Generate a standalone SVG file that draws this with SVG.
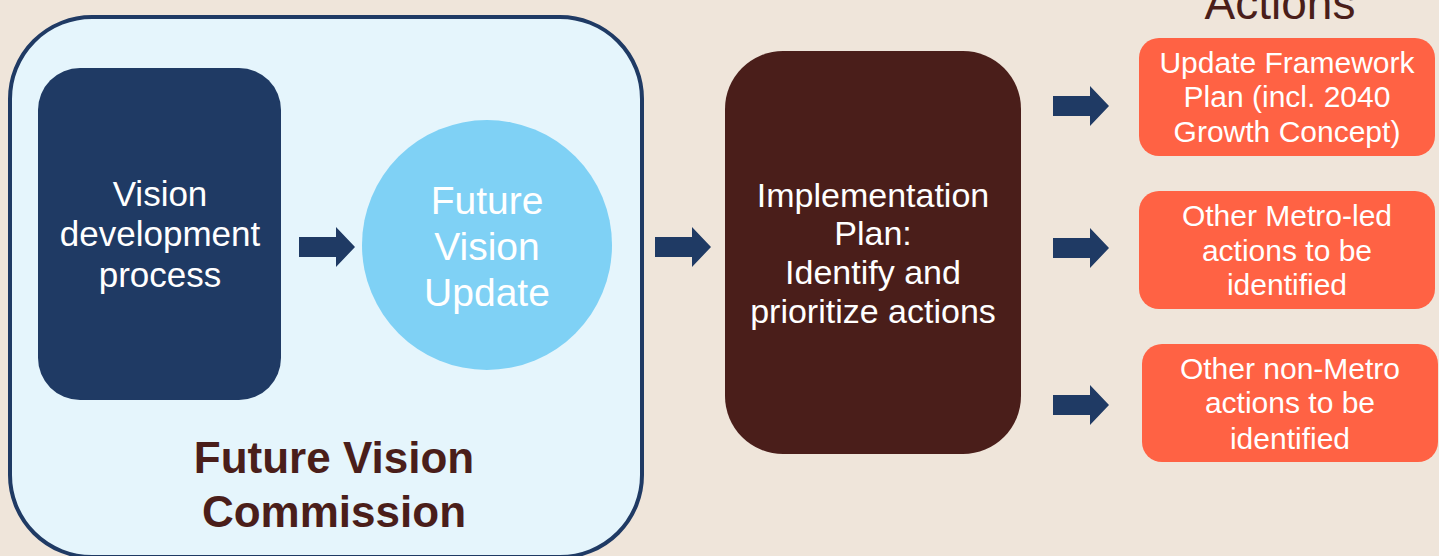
<svg xmlns="http://www.w3.org/2000/svg" width="1439" height="556" viewBox="0 0 1439 556">
<defs>
<style>
.t{font-family:"Liberation Sans",Arial,sans-serif;fill:#ffffff;text-anchor:middle}
.arrow{fill:#1f3a64}
.act{fill:#ff6244}
.brown{fill:#4a1e1a}
</style>
<path id="arr" d="M0,-10 H37 V-20 L56,0 L37,20 V10 H0 Z"/>
</defs>
<rect x="0" y="0" width="1439" height="556" fill="#efe5da"/>
<g id="commission">
<rect x="10" y="17" width="632" height="540" rx="82" ry="82" fill="#e5f5fc" stroke="#1f3a64" stroke-width="4"/>
<text class="t" x="334" y="473" style="fill:#4a1e1a;font-weight:bold;font-size:44px">Future Vision</text>
<text class="t" x="334" y="527" style="fill:#4a1e1a;font-weight:bold;font-size:44px">Commission</text>
</g>
<g id="vision-dev">
<rect x="38" y="68" width="243" height="332" rx="42" ry="42" fill="#1f3a64"/>
<text class="t" style="font-size:35px"><tspan x="160" y="206">Vision</tspan><tspan x="160" y="246">development</tspan><tspan x="160" y="287">process</tspan></text>
</g>
<g id="future-vision-update">
<circle cx="487" cy="245" r="125" fill="#7fd1f5"/>
<text class="t" style="font-size:39px"><tspan x="487" y="214">Future</tspan><tspan x="487" y="260">Vision</tspan><tspan x="487" y="306">Update</tspan></text>
</g>
<g id="implementation-plan">
<rect x="725" y="51" width="296" height="403" rx="58" ry="58" class="brown"/>
<text class="t" style="font-size:34px"><tspan x="873" y="207">Implementation</tspan><tspan x="873" y="245">Plan:</tspan><tspan x="873" y="284">Identify and</tspan><tspan x="873" y="323">prioritize actions</tspan></text>
</g>
<g id="actions-title">
<text class="t" x="1280" y="19" style="fill:#4a1e1a;font-size:46px">Actions</text>
</g>
<g id="action-framework">
<rect x="1139" y="38" width="296" height="118" rx="20" ry="20" class="act"/>
<text class="t" style="font-size:30px"><tspan x="1287" y="73">Update Framework</tspan><tspan x="1287" y="107">Plan (incl. 2040</tspan><tspan x="1287" y="142">Growth Concept)</tspan></text>
</g>
<g id="action-metro">
<rect x="1139" y="191" width="296" height="118" rx="20" ry="20" class="act"/>
<text class="t" style="font-size:30px"><tspan x="1287" y="226">Other Metro-led</tspan><tspan x="1287" y="261">actions to be</tspan><tspan x="1287" y="295">identified</tspan></text>
</g>
<g id="action-nonmetro">
<rect x="1142" y="344" width="296" height="118" rx="20" ry="20" class="act"/>
<text class="t" style="font-size:30px"><tspan x="1290" y="379">Other non-Metro</tspan><tspan x="1290" y="413">actions to be</tspan><tspan x="1290" y="449">identified</tspan></text>
</g>
<g id="connectors" class="arrow">
<use href="#arr" x="299" y="247"/>
<use href="#arr" x="655" y="247"/>
<use href="#arr" x="1053" y="106"/>
<use href="#arr" x="1053" y="248"/>
<use href="#arr" x="1053" y="405"/>
</g>
</svg>
